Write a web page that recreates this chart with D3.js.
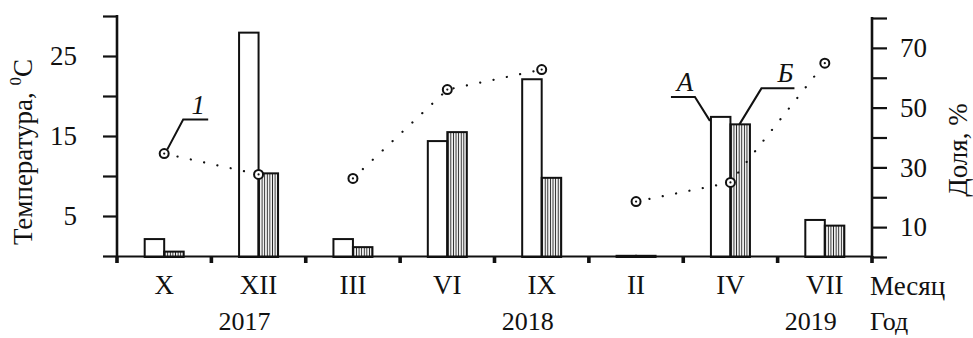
<!DOCTYPE html>
<html>
<head>
<meta charset="utf-8">
<script src="https://cdn.jsdelivr.net/npm/d3@7"></script>
<style>
  body { margin: 0; background: #fff; }
  svg text { font-family: "Liberation Serif", "Times New Roman", serif; fill: #111; }
</style>
</head>
<body>
<div id="chart"></div>
<script>
// --- data ---
var months = ["X", "XII", "III", "VI", "IX", "II", "IV", "VII"];
var shareA = [6.0, 75.1, 6.0, 38.8, 59.5, 0.4, 46.9, 12.4];   // Доля, % (white bars)
var shareB = [1.8, 28.0, 3.3, 41.8, 26.5, 0.4, 44.4, 10.5];   // Доля, % (hatched bars)
var temp   = [12.8, 10.2, 9.7, 20.8, 23.3, 6.8, 9.2, 24.1];   // Температура, °C (line 1)
var segStarts = ["X", "III", "II"];                              // the dotted line breaks before these
var tempTicks = [0, 5, 10, 15, 20, 25, 30];
var tempLabels = [5, 15, 25];
var shareTicks = [0, 10, 20, 30, 40, 50, 60, 70, 80];
var shareLabels = [10, 30, 50, 70];
var years = ["2017", "2018", "2019"];
var yearAt = ["XII", "IX", "VII"];

var width = 973, height = 338;
var ink = "#111";

var svg = d3.select("#chart").append("svg")
  .attr("width", width)
  .attr("height", height);

// hatch pattern for series Б
svg.append("defs").append("pattern")
  .attr("id", "hatch")
  .attr("patternUnits", "userSpaceOnUse")
  .attr("width", 2.6).attr("height", 10)
  .append("line")
  .attr("x1", 1.3).attr("x2", 1.3).attr("y1", 0).attr("y2", 10)
  .attr("stroke", "#222").attr("stroke-width", 1);

// scales
var x = d3.scaleBand().domain(months).range([117, 872]).padding(0);
var bw = x.bandwidth();
var barW = 19.5;
var xSub = d3.scaleBand().domain(["A", "Б"]).range([bw / 2 - barW, bw / 2 + barW]);
var yT = d3.scaleLinear().domain([0, 30]).range([256, 16]);
var yP = d3.scaleLinear().domain([0, 80]).range([257, 18]);

// ---- bars ----
var barData = months.map(function (m, i) {
  return [{m: m, k: "A", v: shareA[i]}, {m: m, k: "Б", v: shareB[i]}];
});
var groups = svg.append("g").selectAll("g")
  .data(barData).enter().append("g")
  .attr("transform", function (d) { return "translate(" + x(d[0].m) + ",0)"; });
groups.selectAll("rect")
  .data(function (d) { return d; }).enter().append("rect")
  .attr("x", function (d) { return xSub(d.k); })
  .attr("width", xSub.bandwidth())
  .attr("y", function (d) { return yP(d.v); })
  .attr("height", function (d) { return yP(0) - yP(d.v); })
  .attr("fill", function (d) { return d.k === "A" ? "#fff" : "url(#hatch)"; })
  .attr("stroke", ink)
  .attr("stroke-width", 2);

// ---- left axis (temperature) ----
var axL = svg.append("g").attr("transform", "translate(117,0)")
  .call(d3.axisLeft(yT).tickValues(tempTicks).tickSize(14).tickPadding(26)
    .tickFormat(function (d) { return tempLabels.indexOf(d) >= 0 ? d : ""; }));
axL.select(".domain").remove();
axL.selectAll(".tick line").attr("stroke", ink).attr("stroke-width", 2.2);
axL.selectAll(".tick text").attr("font-size", 27).attr("fill", ink)
  .attr("font-family", "Liberation Serif");
svg.append("line").attr("x1", 117).attr("x2", 117)
  .attr("y1", yT(30) - 1).attr("y2", yT(0) + 1)
  .attr("stroke", ink).attr("stroke-width", 2.6);

// ---- right axis (share) ----
var axR = svg.append("g").attr("transform", "translate(872,0)")
  .call(d3.axisRight(yP).tickValues(shareTicks).tickSize(15).tickPadding(13)
    .tickFormat(function (d) { return shareLabels.indexOf(d) >= 0 ? d : ""; }));
axR.select(".domain").remove();
axR.selectAll(".tick line").attr("stroke", ink).attr("stroke-width", 2.2);
axR.selectAll(".tick text").attr("font-size", 27).attr("fill", ink)
  .attr("font-family", "Liberation Serif");
svg.append("line").attr("x1", 872).attr("x2", 872)
  .attr("y1", yP(80) - 1).attr("y2", yP(0) + 1)
  .attr("stroke", ink).attr("stroke-width", 2.6);

// ---- bottom axis ----
svg.append("line").attr("x1", 117).attr("x2", 872)
  .attr("y1", 256.5).attr("y2", 256.5)
  .attr("stroke", ink).attr("stroke-width", 2.2);
var edges = months.map(function (m) { return x(m); }).concat([x.range()[1]]);
svg.append("g").selectAll("rect").data(edges).enter().append("rect")
  .attr("x", function (d) { return d - 1.8; })
  .attr("y", 256)
  .attr("width", 3.6).attr("height", 7)
  .attr("fill", ink);

var axB = svg.append("g").attr("transform", "translate(0,256)")
  .call(d3.axisBottom(x).tickSize(0).tickPadding(19));
axB.select(".domain").remove();
axB.selectAll(".tick text").attr("font-size", 27).attr("fill", ink)
  .attr("font-family", "Liberation Serif");

svg.append("g").selectAll("text").data(years).enter().append("text")
  .attr("x", function (d, i) { return x(yearAt[i]) + bw / 2 - 14; })
  .attr("y", 330)
  .attr("text-anchor", "middle")
  .attr("font-size", 26)
  .text(function (d) { return d; });

svg.append("text").attr("x", 870).attr("y", 295).attr("font-size", 27).text("Месяц");
svg.append("text").attr("x", 870).attr("y", 330).attr("font-size", 26).text("Год");

// axis titles
var tl = svg.append("text")
  .attr("transform", "translate(32,152) rotate(-90)")
  .attr("text-anchor", "middle")
  .attr("font-size", 27);
tl.append("tspan").text("Температура, ");
tl.append("tspan").attr("font-size", 17).attr("dy", -11).text("0");
tl.append("tspan").attr("dy", 11).text("C");

svg.append("text")
  .attr("transform", "translate(967,150) rotate(-90)")
  .attr("text-anchor", "middle")
  .attr("font-size", 27)
  .text("Доля, %");

// ---- temperature line (1), drawn in separate runs ----
var cx = function (i) { return x(months[i]) + bw / 2; };
var runs = [];
temp.forEach(function (t, i) {
  if (segStarts.indexOf(months[i]) >= 0) runs.push([]);
  runs[runs.length - 1].push({i: i, t: t});
});
var line = d3.line()
  .x(function (d) { return cx(d.i); })
  .y(function (d) { return yT(d.t); });
svg.append("g").selectAll("path").data(runs).enter().append("path")
  .attr("d", line)
  .attr("fill", "none")
  .attr("stroke", ink)
  .attr("stroke-width", 2.2)
  .attr("stroke-linecap", "round")
  .attr("stroke-dasharray", "0.1,13.5");

var pts = svg.append("g").selectAll("g").data(temp).enter().append("g")
  .attr("transform", function (d, i) { return "translate(" + cx(i) + "," + yT(d) + ")"; });
pts.append("circle").attr("r", 4.5).attr("fill", "#fff")
  .attr("stroke", ink).attr("stroke-width", 2);
pts.append("circle").attr("r", 1.1).attr("fill", ink);

// ---- leaders and labels ----
var leaderStyle = function (p) {
  return p.attr("fill", "none").attr("stroke", ink).attr("stroke-width", 2);
};
// 1 -> first temperature point
var p1x = cx(0), p1y = yT(temp[0]);
leaderStyle(svg.append("path")
  .attr("d", "M" + (p1x + 3) + "," + (p1y - 4) + "L" + (p1x + 19) + "," + (p1y - 34) + "h25"));
svg.append("text").attr("x", p1x + 34).attr("y", p1y - 40)
  .attr("text-anchor", "middle").attr("font-size", 27).attr("font-style", "italic").text("1");

// A and Б -> bars of IV
var iIV = months.indexOf("IV");
var ax = x("IV") + xSub("A"), ay = yP(shareA[iIV]);
leaderStyle(svg.append("path")
  .attr("d", "M" + (ax - 1) + "," + (ay + 4) + "L" + (ax - 16) + "," + (ay - 20) + "h-24"));
svg.append("text").attr("x", ax - 26).attr("y", ay - 26)
  .attr("text-anchor", "middle").attr("font-size", 27).attr("font-style", "italic").text("А");

var bx = x("IV") + xSub("Б"), by = yP(shareB[iIV]);
leaderStyle(svg.append("path")
  .attr("d", "M" + (bx + 9) + "," + (by) + "L" + (bx + 31) + "," + (by - 36) + "h33"));
svg.append("text").attr("x", bx + 55).attr("y", by - 42)
  .attr("text-anchor", "middle").attr("font-size", 27).attr("font-style", "italic").text("Б");
</script>
</body>
</html>
